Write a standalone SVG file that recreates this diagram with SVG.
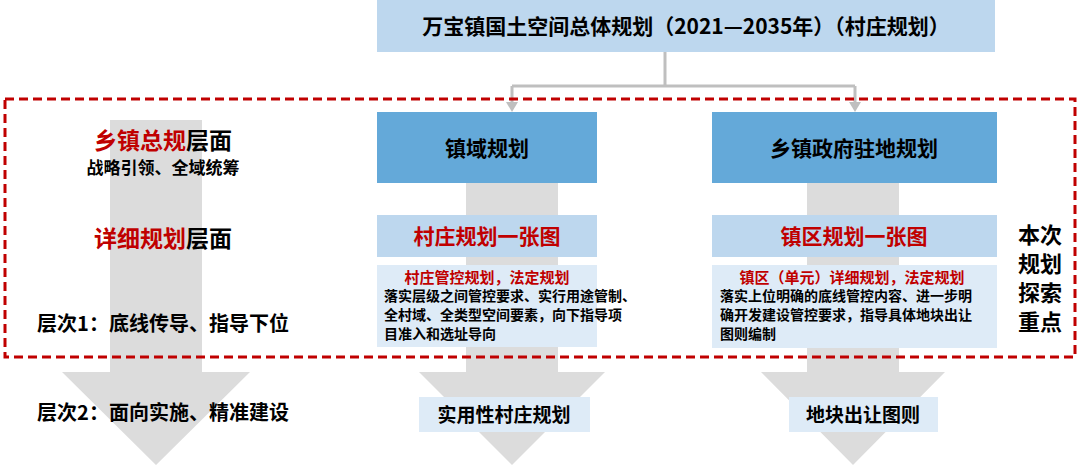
<svg xmlns="http://www.w3.org/2000/svg" width="1080" height="465" viewBox="0 0 1080 465">
<style>
text{font-family:"Noto Sans CJK SC","Liberation Sans",sans-serif;font-weight:bold;fill:#000}
.arr{fill:#DCDCDC}
.blue{fill:#64A9D9}
.lb{fill:#BDD7EE}
.pale{fill:#DEEBF7}
.red{fill:#C00000}
.conn{stroke:#BFBFBF;stroke-width:3;fill:none}
</style>
<rect width="1080" height="465" fill="#fff"/>
<g id="arrows-bg">
<polygon class="arr" points="110,120 202,120 202,372 250,372 156,465 62,372 110,372"/>
<polygon class="arr" points="466,183 558,183 558,372 605,372 512,465 419,372 466,372"/>
<polygon class="arr" points="807,183 899,183 899,372 945,372 853,465 761,372 807,372"/>
</g>
<g id="connectors">
<path class="conn" d="M665,52 V86 M512,86 H855 M512,86 V104 M855,86 V104"/>
<polygon points="506,102 518,102 512,112" fill="#BFBFBF"/>
<polygon points="849,102 861,102 855,112" fill="#BFBFBF"/>
</g>
<g id="top"><rect x="377" y="0" width="618" height="52" class="lb"/>
<text x="686" y="34" font-size="21" text-anchor="middle">万宝镇国土空间总体规划（2021—2035年）（村庄规划）</text></g>
<rect x="5" y="99" width="1070" height="258" fill="none" stroke="#C00000" stroke-width="3" stroke-dasharray="9,5"/>
<g id="l1"><text x="163" y="149" font-size="23" text-anchor="middle"><tspan class="red">乡镇总规</tspan>层面</text>
<text x="163" y="174" font-size="17" text-anchor="middle">战略引领、全域统筹</text></g>
<g id="l2"><text x="163" y="247" font-size="23" text-anchor="middle"><tspan class="red">详细规划</tspan>层面</text></g>
<text x="163" y="331" font-size="20" text-anchor="middle">层次1：底线传导、指导下位</text>
<text x="163" y="420" font-size="20" text-anchor="middle">层次2：面向实施、精准建设</text>
<g id="zy"><rect x="377" y="112" width="220" height="71" class="blue"/><text x="487" y="156" font-size="21" text-anchor="middle">镇域规划</text></g>
<g id="zf"><rect x="712" y="112" width="285" height="71" class="blue"/><text x="854" y="156" font-size="21" text-anchor="middle">乡镇政府驻地规划</text></g>
<g id="cz1"><rect x="377" y="215" width="220" height="42" class="lb"/><text x="487" y="244" font-size="21" text-anchor="middle" class="red">村庄规划一张图</text></g>
<g id="zq1"><rect x="712" y="215" width="285" height="42" class="lb"/><text x="854" y="244" font-size="21" text-anchor="middle" class="red">镇区规划一张图</text></g>
<g id="cz2"><rect x="377" y="265" width="220" height="82" class="pale"/>
<text x="487" y="283" font-size="15" text-anchor="middle" class="red">村庄管控规划，法定规划</text>
<text font-size="14"><tspan x="384" y="301">落实层级之间管控要求、实行用途管制、</tspan><tspan x="384" y="320">全村域、全类型空间要素，向下指导项</tspan><tspan x="384" y="339">目准入和选址导向</tspan></text></g>
<g id="zq2"><rect x="712" y="265" width="285" height="83" class="pale"/>
<text x="852" y="283" font-size="15" text-anchor="middle" class="red">镇区（单元）详细规划，法定规划</text>
<text font-size="14"><tspan x="720" y="301">落实上位明确的底线管控内容、进一步明</tspan><tspan x="720" y="320">确开发建设管控要求，指导具体地块出让</tspan><tspan x="720" y="339">图则编制</tspan></text></g>
<g id="focus"><text font-size="22" text-anchor="middle"><tspan x="1040" y="243">本次</tspan><tspan x="1040" y="272">规划</tspan><tspan x="1040" y="301">探索</tspan><tspan x="1040" y="330">重点</tspan></text></g>
<g id="b1"><rect x="419" y="397" width="171" height="35" class="pale"/><text x="504" y="422" font-size="19" text-anchor="middle">实用性村庄规划</text></g>
<g id="b2"><rect x="789" y="397" width="149" height="35" class="pale"/><text x="863" y="422" font-size="19" text-anchor="middle">地块出让图则</text></g>
</svg>
